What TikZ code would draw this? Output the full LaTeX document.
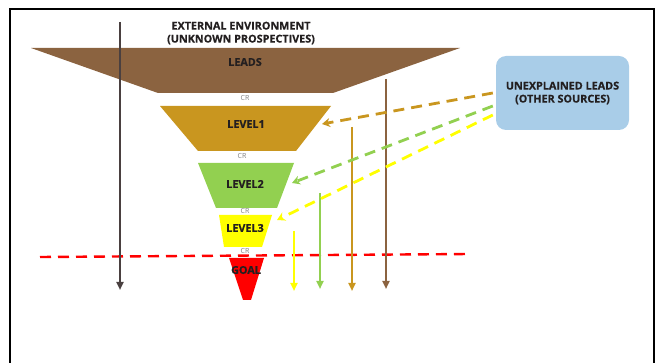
\documentclass[tikz,border=0pt]{standalone}
\usepackage{fontspec}
\setmainfont{Open Sans}[BoldFeatures={FakeBold=0.6}]
\usetikzlibrary{calc,arrows.meta,positioning}
\definecolor{leadbrown}{HTML}{8B6340}
\definecolor{levgold}{HTML}{C9961F}
\definecolor{levgreen}{HTML}{92D050}
\definecolor{levyellow}{HTML}{FFFF00}
\definecolor{goalred}{HTML}{FF0000}
\definecolor{boxblue}{HTML}{A9CDE8}
\definecolor{darktxt}{HTML}{231F20}
\definecolor{axisgray}{HTML}{4A4040}
\tikzset{
  lbl/.style={font=\bfseries\fontsize{10.8}{13}\selectfont,text=darktxt,inner sep=0pt,align=center},
  crlbl/.style={font=\fontsize{7}{7}\selectfont,text=gray,inner sep=0pt},
  downarrow/.style={line width=2pt,-{Triangle[length=8pt,width=7pt]}},
  sidearrow/.style={line width=2.8pt,dash pattern=on 11pt off 7pt,-{Stealth[length=8pt,width=9pt]}}
}
\begin{document}
\begin{tikzpicture}[x=1pt,y=-1pt]
\useasboundingbox (0,0) rectangle (664,363);
% frame
\draw[line width=1.6pt] (10,363) -- (10,9) -- (654,9) -- (654,363);
% boundary of the goal
\draw[goalred,line width=2.4pt,dash pattern=on 11pt off 7pt] (40,257) -- (470,254);
% funnel
\fill[leadbrown] (31,48) -- (460,48) -- (333,93) -- (158,93) -- cycle;
\fill[levgold] (160,106) -- (331,106) -- (296,151) -- (198,151) -- cycle;
\fill[levgreen] (198,163) -- (294,163) -- (277,208) -- (216,208) -- cycle;
\fill[levyellow] (219,215) -- (272,215) -- (262,247) -- (224,247) -- cycle;
\fill[goalred] (229,258) -- (264,258) -- (251,300) -- (243,300) -- cycle;
\node[lbl] (ext) at (241,33) {EXTERNAL ENVIRONMENT\\(UNKNOWN PROSPECTIVES)};
\node[lbl] (leads) at (245,62) {LEADS};
\node[lbl] (lev1) at (246,124) {LEVEL1};
\node[lbl] (lev2) at (245,184) {LEVEL2};
\node[lbl] (lev3) at (245,228) {LEVEL3};
\node[lbl] (goal) at (246,270) {GOAL};
\node[crlbl] (cr1) at (245,98) {CR};
\node[crlbl] (cr2) at (242,156) {CR};
\node[crlbl] (cr3) at (245,211) {CR};
\node[crlbl] (cr4) at (245,251) {CR};
% other sources
\node[lbl,fill=boxblue,rounded corners=10pt,minimum width=133pt,minimum height=74pt] (unexp) at (562.5,93) {UNEXPLAINED LEADS\\(OTHER SOURCES)};
\coordinate (in1) at (322,124);
\coordinate (in2) at (292,183);
\coordinate (in3) at (277,220);
% vertical arrows
\coordinate (envtop) at (120,22);
\coordinate (envbot) at (120,290);
\coordinate (brtop) at (386,79);
\coordinate (brbot) at (386,289);
\coordinate (gdtop) at (352,127);
\coordinate (gdbot) at (352,291);
\coordinate (grtop) at (320,193);
\coordinate (grbot) at (320,289);
\coordinate (yltop) at (294,231);
\coordinate (ylbot) at (294,291);
\draw[downarrow,axisgray] (envtop) -- (envbot);
\draw[downarrow,leadbrown] (brtop) -- (brbot);
\draw[downarrow,levgold] (gdtop) -- (gdbot);
\draw[downarrow,levgreen] (grtop) -- (grbot);
\draw[downarrow,levyellow] (yltop) -- (ylbot);
\draw[sidearrow,levgold] ([xshift=-3pt,yshift=0pt]unexp.west) -- (in1);
\draw[sidearrow,levgreen] ([xshift=-3pt,yshift=-13pt]unexp.west) -- (in2);
\draw[sidearrow,levyellow] ([xshift=-3pt,yshift=-22pt]unexp.west) -- (in3);
\end{tikzpicture}
\end{document}
